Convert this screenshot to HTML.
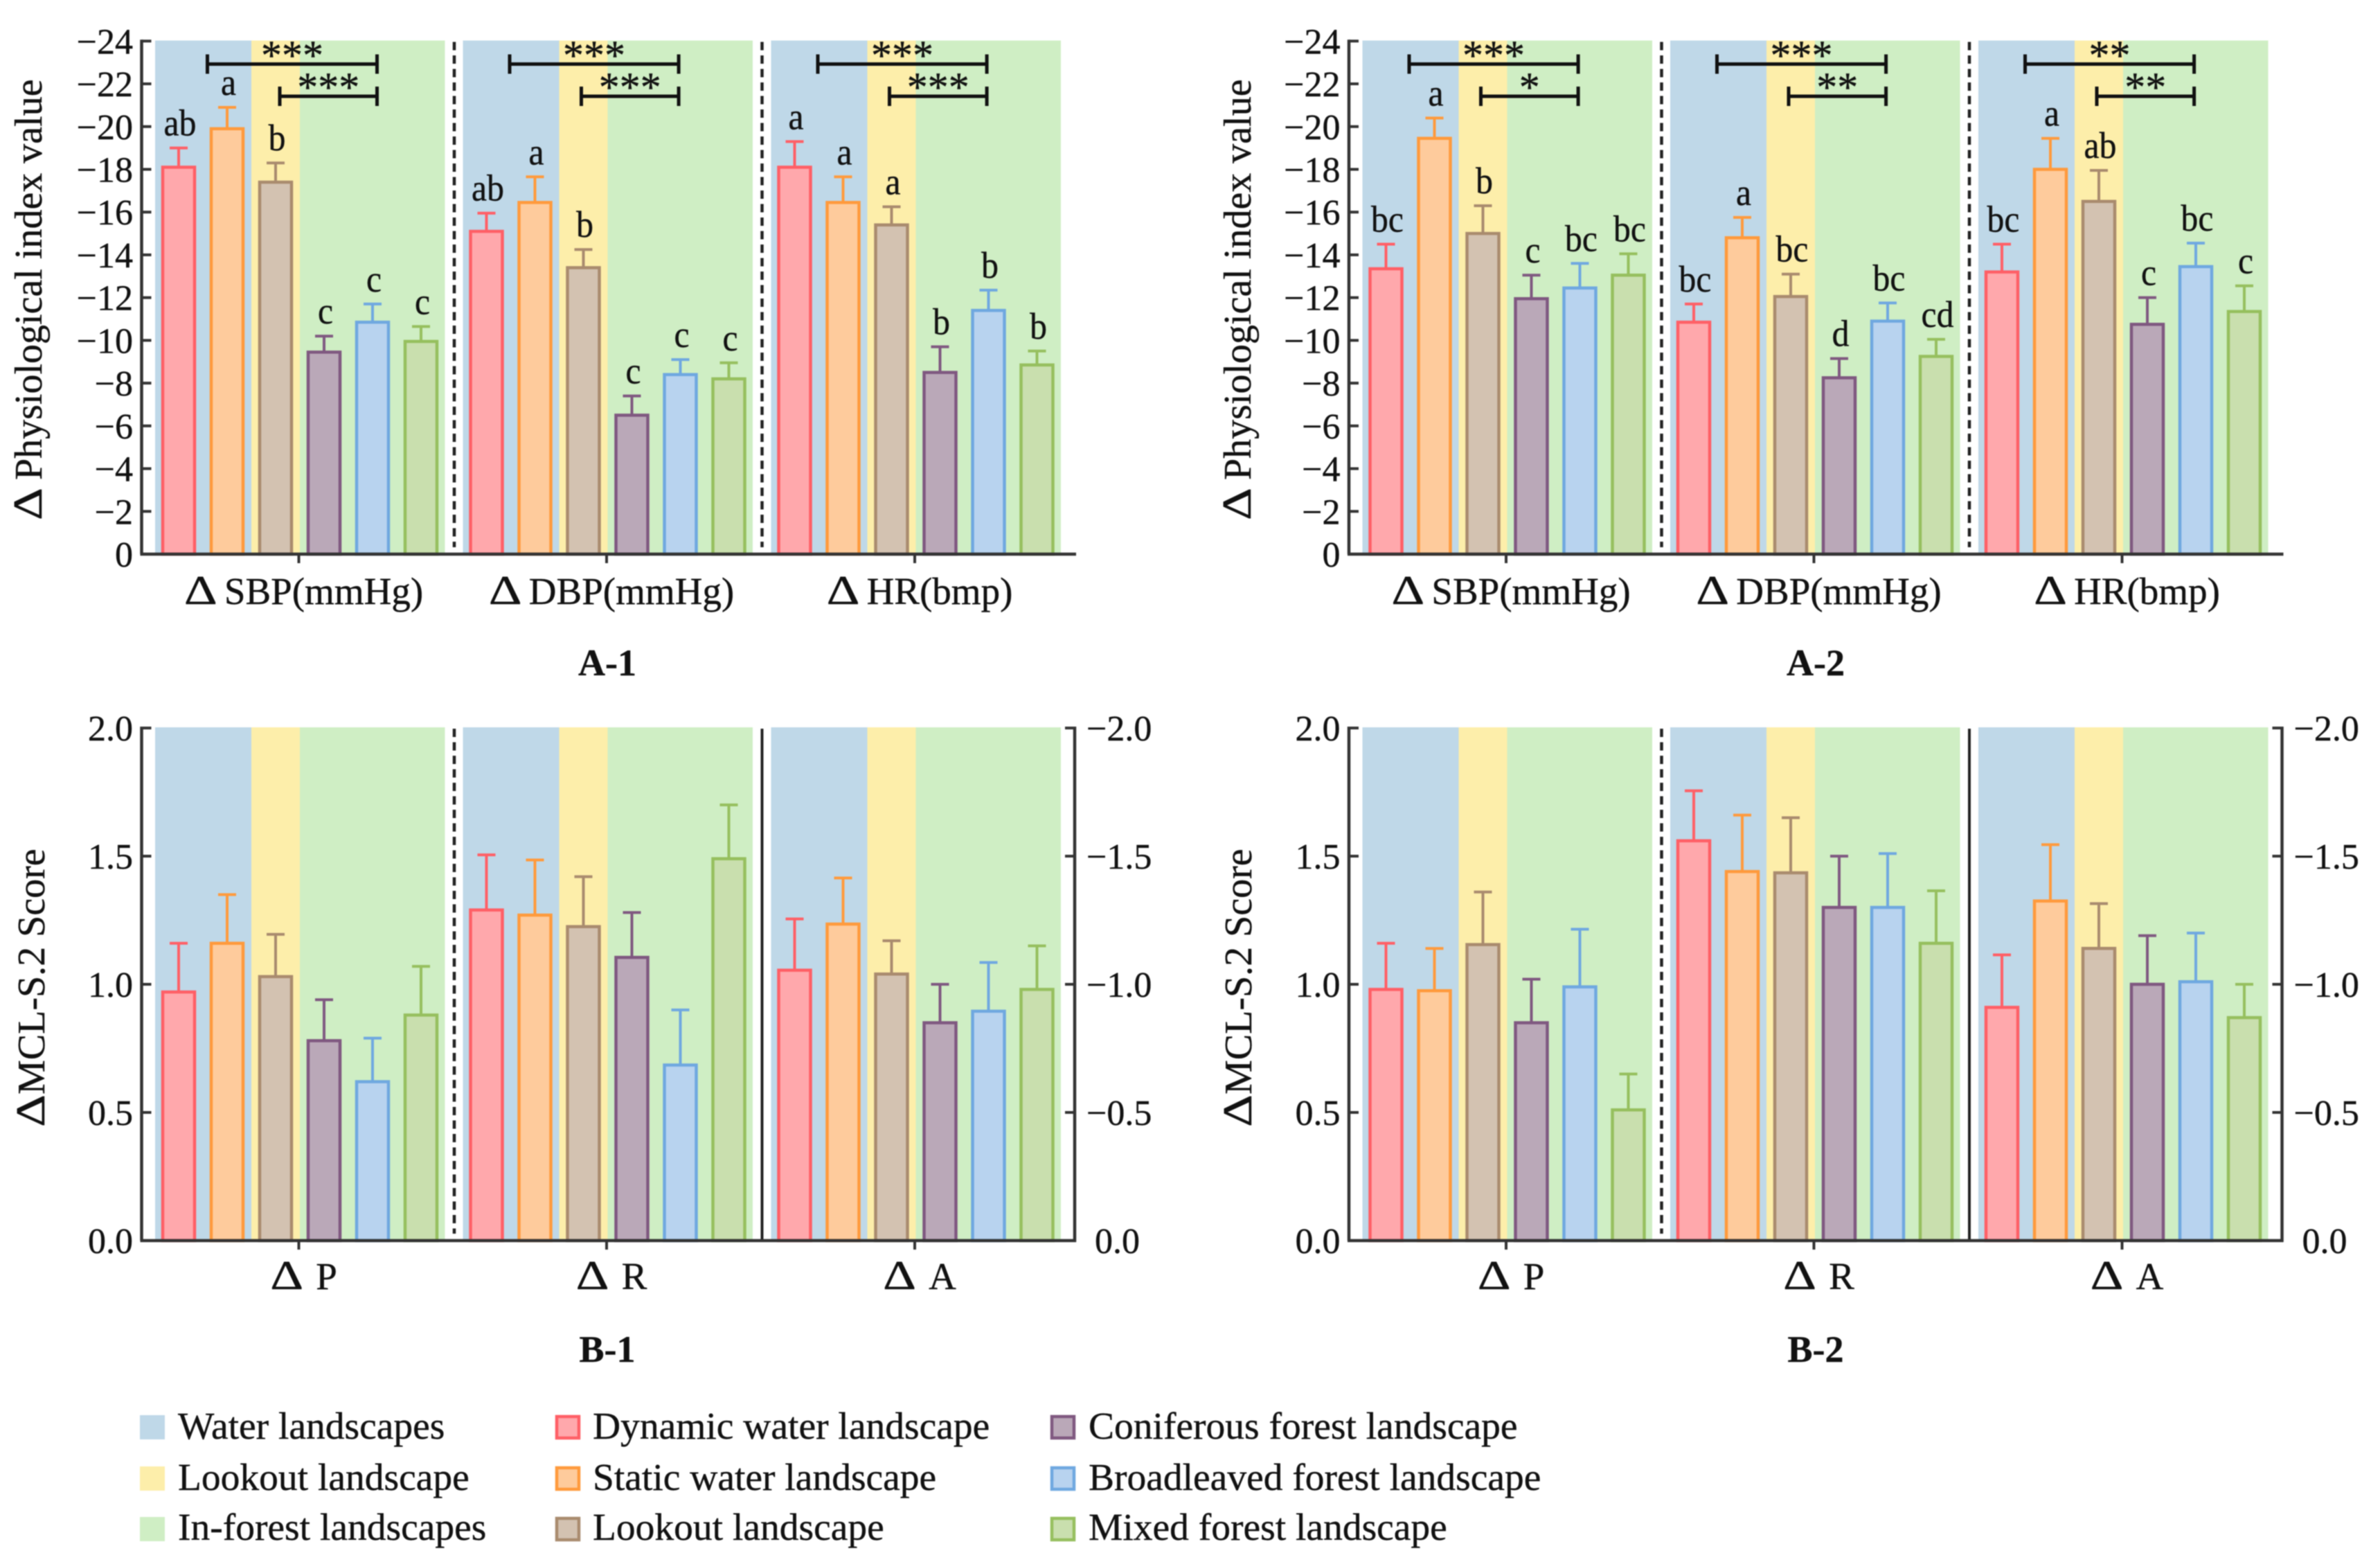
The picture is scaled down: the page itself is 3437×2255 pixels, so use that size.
<!DOCTYPE html>
<html lang="en">
<head>
<meta charset="utf-8">
<title>Physiological index and MCL-S.2 score by landscape type</title>
<style>
html,body{margin:0;padding:0;background:#fff;width:3437px;height:2255px;overflow:hidden}
svg{display:block;filter:blur(0.7px)}
text{font-family:"Liberation Serif","Times New Roman",serif;fill:#111;stroke:#111;stroke-width:.4px}
</style>
</head>
<body>
<svg id="figure" xmlns="http://www.w3.org/2000/svg" width="3437" height="2255" viewBox="0 0 3437 2255">
  <rect width="3437" height="2255" fill="#fff"/>
  <g id="charts"></g>

  <g font-size="56">
    <text transform="translate(60,751) rotate(-90) scale(1.3,1.05)">Δ</text>
    <text transform="translate(60,693) rotate(-90)">Physiological index value</text>
  </g>
  <g font-size="56">
    <text transform="translate(1806,751) rotate(-90) scale(1.3,1.05)">Δ</text>
    <text transform="translate(1806,693) rotate(-90)">Physiological index value</text>
  </g>
  <g font-size="56">
    <text transform="translate(64,1627) rotate(-90) scale(1.3,1.05)">Δ</text>
    <text transform="translate(64,1580) rotate(-90)">MCL-S.2 Score</text>
  </g>
  <g font-size="56">
    <text transform="translate(1807,1627) rotate(-90) scale(1.3,1.05)">Δ</text>
    <text transform="translate(1807,1580) rotate(-90)">MCL-S.2 Score</text>
  </g>

  <text x="877" y="975" font-size="54" font-weight="bold" text-anchor="middle">A-1</text>
  <text x="2622" y="975" font-size="54" font-weight="bold" text-anchor="middle">A-2</text>
  <text x="877" y="1966" font-size="54" font-weight="bold" text-anchor="middle">B-1</text>
  <text x="2622" y="1966" font-size="54" font-weight="bold" text-anchor="middle">B-2</text>

  <g font-size="55.5">
    <g>
      <rect x="202" y="2043" width="36" height="35" fill="#bfd8e8"/>
      <text x="257" y="2077">Water landscapes</text>
    </g>
    <g>
      <rect x="202" y="2117" width="36" height="35" fill="#fdeeaa"/>
      <text x="257" y="2151">Lookout landscape</text>
    </g>
    <g>
      <rect x="202" y="2190" width="36" height="35" fill="#cfeec4"/>
      <text x="257" y="2223">In-forest landscapes</text>
    </g>
    <g>
      <rect x="804" y="2045" width="32" height="31" fill="#ffa8ac" stroke="#ff5f66" stroke-width="4.5"/>
      <text x="856" y="2077">Dynamic water landscape</text>
    </g>
    <g>
      <rect x="804" y="2119" width="32" height="31" fill="#fecb9c" stroke="#ff9a3c" stroke-width="4.5"/>
      <text x="856" y="2151">Static water landscape</text>
    </g>
    <g>
      <rect x="804" y="2192" width="32" height="31" fill="#d3c2b1" stroke="#a98b6e" stroke-width="4.5"/>
      <text x="856" y="2223">Lookout landscape</text>
    </g>
    <g>
      <rect x="1519" y="2045" width="32" height="31" fill="#baa8b8" stroke="#7f5880" stroke-width="4.5"/>
      <text x="1572" y="2077">Coniferous forest landscape</text>
    </g>
    <g>
      <rect x="1519" y="2119" width="32" height="31" fill="#b8d3ef" stroke="#6fa8e0" stroke-width="4.5"/>
      <text x="1572" y="2151">Broadleaved forest landscape</text>
    </g>
    <g>
      <rect x="1519" y="2192" width="32" height="31" fill="#c9dfae" stroke="#96bf5e" stroke-width="4.5"/>
      <text x="1572" y="2223">Mixed forest landscape</text>
    </g>
  </g>
</svg>

<script>
// ---------- chart data ----------
const categoriesA = ['SBP(mmHg)', 'DBP(mmHg)', 'HR(bmp)'];
const categoriesB = ['P', 'R', 'A'];
const leftTicksA = [0, -2, -4, -6, -8, -10, -12, -14, -16, -18, -20, -22, -24];
const leftTicksB = [0, 0.5, 1, 1.5, 2];
const rightTicksB = [0, -0.5, -1, -1.5, -2];

// A-1 means, upper whisker ends, significance letters
const a1SbpMean = [-18.1, -19.9, -17.4, -9.45, -10.85, -9.95];
const a1SbpUpper = [-19.0, -20.9, -18.3, -10.2, -11.7, -10.65];
const a1SbpLetters = ['ab', 'a', 'b', 'c', 'c', 'c'];
const a1DbpMean = [-15.1, -16.45, -13.4, -6.5, -8.4, -8.2];
const a1DbpUpper = [-15.95, -17.65, -14.25, -7.4, -9.1, -8.95];
const a1DbpLetters = ['ab', 'a', 'b', 'c', 'c', 'c'];
const a1HrMean = [-18.1, -16.45, -15.4, -8.5, -11.4, -8.85];
const a1HrUpper = [-19.3, -17.65, -16.25, -9.7, -12.35, -9.5];
const a1HrLetters = ['a', 'a', 'a', 'b', 'b', 'b'];
const a1Stars = [['***', '***'], ['***', '***'], ['***', '***']];

// A-2
const a2SbpMean = [-13.35, -19.45, -15.0, -11.95, -12.45, -13.05];
const a2SbpUpper = [-14.5, -20.4, -16.3, -13.05, -13.6, -14.05];
const a2SbpLetters = ['bc', 'a', 'b', 'c', 'bc', 'bc'];
const a2DbpMean = [-10.85, -14.8, -12.05, -8.25, -10.9, -9.25];
const a2DbpUpper = [-11.7, -15.75, -13.1, -9.15, -11.75, -10.05];
const a2DbpLetters = ['bc', 'a', 'bc', 'd', 'bc', 'cd'];
const a2HrMean = [-13.2, -18.0, -16.5, -10.75, -13.45, -11.35];
const a2HrUpper = [-14.5, -19.45, -17.95, -12.0, -14.55, -12.55];
const a2HrLetters = ['bc', 'a', 'ab', 'c', 'bc', 'c'];
const a2Stars = [['***', '*'], ['***', '**'], ['**', '**']];

// B-1
const b1PMean = [0.97, 1.16, 1.03, 0.78, 0.62, 0.88];
const b1PUpper = [1.16, 1.35, 1.195, 0.94, 0.79, 1.07];
const b1RMean = [1.29, 1.27, 1.225, 1.105, 0.685, 1.49];
const b1RUpper = [1.505, 1.485, 1.42, 1.28, 0.9, 1.7];
const b1AMean = [1.055, 1.235, 1.04, 0.85, 0.895, 0.98];
const b1AUpper = [1.255, 1.415, 1.17, 1.0, 1.085, 1.15];

// B-2
const b2PMean = [0.98, 0.975, 1.155, 0.85, 0.99, 0.51];
const b2PUpper = [1.16, 1.14, 1.36, 1.02, 1.215, 0.65];
const b2RMean = [1.56, 1.44, 1.435, 1.3, 1.3, 1.16];
const b2RUpper = [1.755, 1.66, 1.65, 1.5, 1.51, 1.365];
const b2AMean = [0.91, 1.325, 1.14, 1.0, 1.01, 0.87];
const b2AUpper = [1.115, 1.545, 1.315, 1.19, 1.2, 1.0];

const seriesFill = ['#ffa8ac', '#fecb9c', '#d3c2b1', '#baa8b8', '#b8d3ef', '#c9dfae'];
const seriesStroke = ['#ff5f66', '#ff9a3c', '#a98b6e', '#7f5880', '#6fa8e0', '#96bf5e'];

// ---------- axis functions ----------
const yScaleA = v => 800 + v * (800 - 59.3) / 24;
const yScaleB = v => 1791 - v * 370;
const yScaleBRight = v => 1791 + v * 370;
const bandLeft = (dx, p) => 224 + dx + [0, 444.5, 889.5][p];
const barCenter = (dx, p, i) => bandLeft(dx, p) + 34 + i * 70;
const fmtA = v => v === 0 ? '0' : '\u2212' + Math.abs(v);
const fmtB = v => (v < 0 ? '\u2212' : '') + Math.abs(v).toFixed(1);

const SVGNS = 'http://www.w3.org/2000/svg';
const root = document.getElementById('charts');
function mk(tag, attrs, parent, txt) {
  const el = document.createElementNS(SVGNS, tag);
  for (const k in attrs) el.setAttribute(k, attrs[k]);
  if (txt !== undefined) el.textContent = txt;
  parent.appendChild(el);
  return el;
}
function line(x1, y1, x2, y2, stroke, w, parent, extra) {
  return mk('line', Object.assign({x1, y1, x2, y2, stroke, 'stroke-width': w}, extra || {}), parent);
}

function drawCategoryLabel(g, text, cx, baseline, gap) {
  const body = mk('text', {x: 0, y: baseline, 'font-size': 55}, g, text);
  
  
  const w = body.getComputedTextLength();
  const triW = 46;
  const start = cx - (triW + gap + w) / 2;
  body.setAttribute('x', start + triW + gap);
  const tri = mk('text', {transform: 'translate(' + start + ',' + baseline + ') scale(1.33,1.05)', 'font-size': 56}, g, '\u0394');
  
  
}

function drawPanel(g, cfg, p, mean, upper, letters, stars) {
  const dx = cfg.dx, y = cfg.y, y0 = y(0), left = bandLeft(dx, p);
  const top = cfg.bandTop, h = y0 - top;

  const bandA = mk('rect', {x: left, y: top, width: 139, height: h, fill: '#bfd8e8'}, g);
  
  
  const bandB = mk('rect', {x: left + 139, y: top, width: 70, height: h, fill: '#fdeeaa'}, g);
  
  
  const bandC = mk('rect', {x: left + 209, y: top, width: 209.5, height: h, fill: '#cfeec4'}, g);
  
  

  for (let i = 0; i < mean.length; i++) {
    const cx = barCenter(dx, p, i), yv = y(mean[i]), yu = y(upper[i]);
    const whisker = line(cx, yv, cx, yu, seriesStroke[i], 4, g);
    
    
    const cap = line(cx - 13, yu, cx + 13, yu, seriesStroke[i], 4, g);
    
    
    const bar = mk('rect', {x: cx - 23, y: yv, width: 46, height: Math.max(0, y0 - yv), fill: seriesFill[i], stroke: seriesStroke[i], 'stroke-width': 4.5}, g);
    
    
    if (letters) {
      const lab = mk('text', {transform: 'translate(' + (cx + 2) + ',' + (yu - 18) + ') scale(0.92,1)', 'font-size': 54, 'text-anchor': 'middle'}, g, letters[i]);
      
      
    }
  }

  if (stars) {
    const first = (cfg.shiftFirst && p === 0) ? [75.5, 320.5, 180] : [67.5, 311.6, 171];
    const rows = [[first[0], first[1], 92.5, 100, stars[0]], [first[2], first[1], 139, 146, stars[1]]];
    for (const r of rows) {
      const bg = mk('g', {}, g);
      
      
      const xa = left + r[0], xb = left + r[1], yy = r[2];
      line(xa, yy, xb, yy, '#111', 5, bg);
      line(xa, yy - 14, xa, yy + 14, '#111', 5, bg);
      line(xb, yy - 14, xb, yy + 14, '#111', 5, bg);
      const cx = (xa + xb) / 2;
      const n = r[4].length;
      for (let k = 0; k < n; k++) {
        const st = mk('text', {x: cx + (k - (n - 1) / 2) * 30, y: r[3], 'font-size': 60, 'text-anchor': 'middle'}, bg, '*');
        
        
      }
    }
  }

  const tickX = left + 207.5;
  const xt = line(tickX, y0, tickX, y0 + 13, '#333', 4, g);
  
  
  drawCategoryLabel(g, cfg.categories[p], tickX + 7, y0 + cfg.labelDrop, cfg.labelGap);
}

function drawChart(cfg) {
  const g = mk('g', {}, root);
  
  
  const dx = cfg.dx, y = cfg.y, y0 = y(0);

  for (let p = 0; p < 3; p++) {
    drawPanel(g, cfg, p, cfg.means[p], cfg.uppers[p], cfg.letters ? cfg.letters[p] : null, cfg.stars ? cfg.stars[p] : null);
  }

  const s1 = line(656 + dx, cfg.bandTop + 2, 656 + dx, y0 - 10, '#222', 4.5, g, {'stroke-dasharray': '12 7.5'});
  
  
  const s2 = line(1100.5 + dx, cfg.bandTop + 2, 1100.5 + dx, cfg.solidSecond ? y0 : y0 - 10, '#222', cfg.solidSecond ? 4 : 4.5, g, cfg.solidSecond ? {} : {'stroke-dasharray': '12 7.5'});
  
  

  const ax = 204.5 + dx;
  const xAxis = line(ax - 2, y0, 1552 + dx + 2, y0, '#333', 4.5, g);
  
  
  const yAxis = line(ax, y(cfg.leftTicks[cfg.leftTicks.length - 1]) - 2, ax, y0, '#333', 4.5, g);
  
  

  for (const v of cfg.leftTicks) {
    const t = line(ax, y(v), ax + 14, y(v), '#333', 4, g);
    
    
    const lab = mk('text', {x: ax - 12.5, y: y(v) + 18, 'font-size': 52, 'text-anchor': 'end'}, g, cfg.fmt(v));
    
    
  }

  if (cfg.rightTicks) {
    const rx = 1552 + dx;
    const rightAxis = line(rx, yScaleBRight(-2) - 2, rx, y0 + 2, '#333', 4.5, g);
    
    
    for (const v of cfg.rightTicks) {
      const yy = yScaleBRight(v);
      const t = line(rx - 14, yy, rx, yy, '#333', 4, g);
      
      
      const lab = mk('text', {x: rx + (v === 0 ? 29 : 17), y: yy + 18, 'font-size': 52}, g, fmtB(v));
      
      
    }
  }
}

drawChart({name: 'chart-a1', dx: 0, y: yScaleA, bandTop: 58.5, fmt: fmtA, leftTicks: leftTicksA,
  categories: categoriesA, labelDrop: 72, labelGap: 12, solidSecond: false, shiftFirst: true,
  means: [a1SbpMean, a1DbpMean, a1HrMean], uppers: [a1SbpUpper, a1DbpUpper, a1HrUpper],
  letters: [a1SbpLetters, a1DbpLetters, a1HrLetters], stars: a1Stars});

drawChart({name: 'chart-a2', dx: 1743.5, y: yScaleA, bandTop: 58.5, fmt: fmtA, leftTicks: leftTicksA,
  categories: categoriesA, labelDrop: 72, labelGap: 12, solidSecond: false,
  means: [a2SbpMean, a2DbpMean, a2HrMean], uppers: [a2SbpUpper, a2DbpUpper, a2HrUpper],
  letters: [a2SbpLetters, a2DbpLetters, a2HrLetters], stars: a2Stars});

drawChart({name: 'chart-b1', dx: 0, y: yScaleB, bandTop: 1050, fmt: fmtB, leftTicks: leftTicksB, rightTicks: rightTicksB,
  categories: categoriesB, labelDrop: 70, labelGap: 20, solidSecond: true,
  means: [b1PMean, b1RMean, b1AMean], uppers: [b1PUpper, b1RUpper, b1AUpper]});

drawChart({name: 'chart-b2', dx: 1743.5, y: yScaleB, bandTop: 1050, fmt: fmtB, leftTicks: leftTicksB, rightTicks: rightTicksB,
  categories: categoriesB, labelDrop: 70, labelGap: 20, solidSecond: true,
  means: [b2PMean, b2RMean, b2AMean], uppers: [b2PUpper, b2RUpper, b2AUpper]});
</script>
</body>
</html>
